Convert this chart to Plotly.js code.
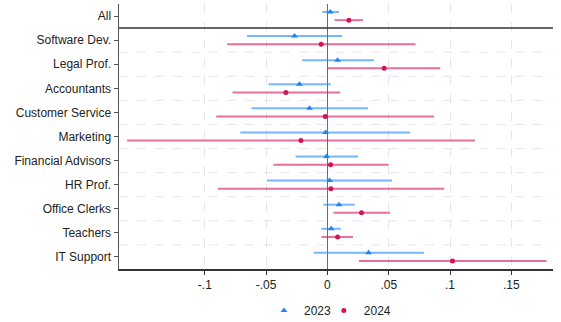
<!DOCTYPE html>
<html><head><meta charset="utf-8">
<script src="https://cdn.plot.ly/plotly-3.0.1.min.js"></script>
<style>html,body{margin:0;padding:0;background:#fff}#chart{width:561px;height:322px}</style>
</head><body><div id="chart"></div>
<script>
const categories = ["All","Software Dev.","Legal Prof.","Accountants","Customer Service","Marketing","Financial Advisors","HR Prof.","Office Clerks","Teachers","IT Support"];
const est2023 = [0.0023,-0.0268,0.0083,-0.0228,-0.0146,-0.0015,-0.0007,0.0018,0.0094,0.0031,0.0336];
const lo2023  = [-0.0042,-0.0657,-0.0206,-0.0480,-0.0619,-0.0711,-0.0260,-0.0494,-0.0034,-0.0048,-0.0113];
const hi2023  = [0.0094,0.0121,0.0379,0.0028,0.0330,0.0675,0.0249,0.0526,0.0224,0.0110,0.0787];
const est2024 = [0.0175,-0.0051,0.0463,-0.0339,-0.0018,-0.0216,0.0026,0.0028,0.0278,0.0083,0.1020];
const lo2024  = [0.0058,-0.0817,0.0001,-0.0774,-0.0907,-0.1633,-0.0440,-0.0893,0.0050,-0.0048,0.0257];
const hi2024  = [0.0290,0.0719,0.0920,0.0104,0.0869,0.1203,0.0499,0.0953,0.0510,0.0208,0.1787];
const xTickVals = [-0.1,-0.05,0,0.05,0.1,0.15];
const xTickText = ["-.1","-.05","0",".05",".1",".15"];

const n = categories.length;
const pos = categories.map((c,i)=> n - i);
const off = 0.17;
const blue = "rgb(26,133,255)", red = "rgb(213,17,89)";

const t1 = {
  type:"scatter", mode:"markers", name:"2023", legend:"legend",
  x: est2023, y: pos.map(p=>p+off),
  marker:{symbol:"triangle-up", size:6, color:blue},
  error_x:{type:"data", symmetric:false, array: hi2023.map((h,i)=>h-est2023[i]), arrayminus: est2023.map((e,i)=>e-lo2023[i]), color:"rgba(26,133,255,0.6)", thickness:2, width:0}
};
const t2 = {
  type:"scatter", mode:"markers", name:"2024", legend:"legend2",
  x: est2024, y: pos.map(p=>p-off),
  marker:{symbol:"circle", size:5, color:red},
  error_x:{type:"data", symmetric:false, array: hi2024.map((h,i)=>h-est2024[i]), arrayminus: est2024.map((e,i)=>e-lo2024[i]), color:"rgba(213,17,89,0.6)", thickness:2, width:0}
};

const shapes = [];
for (let k=1; k<n-1; k++) {
  shapes.push({type:"line", xref:"paper", x0:0, x1:1, yref:"y", y0:k+0.5, y1:k+0.5, layer:"below", line:{color:"#e6e6e6", width:1, dash:"dash"}});
}
shapes.push({type:"line", xref:"paper", x0:0, x1:1, yref:"y", y0:n-0.5, y1:n-0.5, line:{color:"#333", width:1.5}});

const legBase = {orientation:"h", y:-0.157, yanchor:"middle", xanchor:"left", font:{size:12}, bgcolor:"rgba(0,0,0,0)"};
const layout = {
  width:561, height:322,
  margin:{l:119, r:8, t:4, b:53, autoexpand:false},
  paper_bgcolor:"#fff", plot_bgcolor:"#fff",
  font:{family:"Liberation Sans, Arial, sans-serif", size:12, color:"#222"},
  showlegend:true,
  legend:Object.assign({}, legBase, {x:0.334}),
  legend2:Object.assign({}, legBase, {x:0.472}),
  xaxis:{range:[-0.17,0.184], tickvals:xTickVals, ticktext:xTickText, showgrid:true, gridcolor:"#e6e6e6", griddash:"dash", gridwidth:1,
    zeroline:true, zerolinecolor:"rgba(190,30,80,0.85)", zerolinewidth:1.5,
    showline:true, linecolor:"#333", linewidth:1.5, ticks:"outside", ticklen:4, tickcolor:"#333", fixedrange:true},
  yaxis:{range:[0.5,n+0.5], tickvals:pos, ticktext:categories, showgrid:false, zeroline:false,
    showline:true, linecolor:"#555", linewidth:1.5, ticks:"outside", ticklen:4, tickcolor:"#555", fixedrange:true},
  shapes: shapes
};
Plotly.newPlot("chart",[t1,t2],layout,{displayModeBar:false, staticPlot:true});
</script></body></html>
